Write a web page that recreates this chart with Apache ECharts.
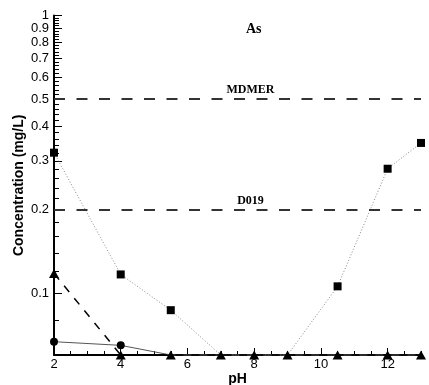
<!DOCTYPE html>
<html>
<head>
<meta charset="utf-8">
<script src="https://cdn.jsdelivr.net/npm/echarts@6/dist/echarts.min.js"></script>
<style>
  html, body { margin: 0; padding: 0; background: #fff; }
  #chart { width: 429px; height: 385px; }
</style>
</head>
<body>
<div id="chart"></div>
<script>
// pH values shared by the three series
const pH = [2, 4, 5.5, 7, 8, 9, 10.5, 12, 13];
// concentration (mg/L)
const squareValues = [0.321, 0.117, 0.087, 0.06, 0.06, 0.06, 0.106, 0.281, 0.348];
const circleValues = [0.067, 0.065, 0.06, 0.06, 0.06, 0.06, 0.06, 0.06, 0.06];
const triangleValues = [0.118, 0.06, 0.06, 0.06, 0.06, 0.06, 0.06, 0.06, 0.06];
// limit lines
const limitNames = ['MDMER', 'D019'];
const limitValues = [0.5, 0.2];
// axis ticks
const xLabelValues = [2, 4, 6, 8, 10, 12];
const yLabelValues = [0.1, 0.2, 0.3, 0.4, 0.5, 0.6, 0.7, 0.8, 0.9];
const yTopLabel = [1];
const yMin = 0.06, yMax = 1;
const xMin = 2, xMax = 13;

// log10 helper: the y axis is a value axis in log space
const lg = (v) => Math.log10(v);

const xMinorTicks = [];
for (let i = xMin * 2; i <= xMax * 2; i++) xMinorTicks.push(i / 2);
const yMinorTicks = [];
for (let i = 3; i <= 50; i++) yMinorTicks.push(lg(i * 0.02));

const chart = echarts.init(document.getElementById('chart'));

const toPairs = (vals) => pH.map((x, i) => [x, lg(vals[i])]);

const axisFont = { fontFamily: 'Liberation Sans, Arial, sans-serif', fontSize: 13, color: '#000' };
const nameFont = { fontFamily: 'Liberation Sans, Arial, sans-serif', fontWeight: 'bold', fontSize: 14, color: '#000' };
const logLabel = (v) => String(Math.round(Math.pow(10, v) * 10) / 10);

// points lying on the x axis are covered by the triangles in the original
const onAxis = (val) => val[1] <= lg(yMin) + 1e-9;

// line (no symbols) + scatter markers on their own layers
const lineOf = (vals, lineStyle) => ({
  type: 'line', z: 2, data: toPairs(vals), showSymbol: false, clip: false, lineStyle,
});
const markersOf = (vals, symbol, size, zlevel, hideOnAxis) => ({
  type: 'scatter', zlevel, data: toPairs(vals), symbolSize: size, clip: false,
  symbol: hideOnAxis ? (val) => (onAxis(val) ? 'none' : symbol) : symbol,
  itemStyle: { color: '#000', opacity: 1 },
});

chart.setOption({
  animation: false,
  title: {
    text: 'As',
    left: 241,
    top: 17,
    textStyle: { fontFamily: 'Liberation Serif, serif', fontWeight: 'bold', fontSize: 14, color: '#000' },
  },
  grid: { left: 54, right: 8, top: 15.6, bottom: 30, outerBoundsMode: 'none' },
  xAxis: [
    {
      type: 'value',
      min: xMin,
      max: xMax,
      position: 'bottom',
      name: 'pH',
      nameLocation: 'middle',
      nameGap: 17,
      nameMoveOverlap: false,
      nameTextStyle: nameFont,
      axisLine: { onZero: false, lineStyle: { color: '#000', width: 2 } },
      axisTick: { inside: true, length: 7, customValues: xLabelValues, lineStyle: { color: '#000', width: 1 } },
      axisLabel: { ...axisFont, margin: 3, customValues: xLabelValues },
      splitLine: { show: false },
    },
    {
      type: 'value',
      min: xMin,
      max: xMax,
      position: 'bottom',
      offset: 0,
      axisLine: { show: false, onZero: false },
      axisTick: { inside: true, length: 4, customValues: xMinorTicks, lineStyle: { color: '#000', width: 1 } },
      axisLabel: { show: false },
      splitLine: { show: false },
    },
  ],
  yAxis: [
    {
      type: 'value',
      min: lg(yMin),
      max: lg(yMax),
      position: 'left',
      name: 'Concentration (mg/L)',
      nameLocation: 'middle',
      nameGap: 28,
      nameMoveOverlap: false,
      nameTextStyle: nameFont,
      axisLine: { show: true, onZero: false, lineStyle: { color: '#000', width: 2 } },
      axisTick: { show: true, inside: true, length: 8, customValues: yLabelValues.concat(yTopLabel).map(lg), lineStyle: { color: '#000', width: 1 } },
      axisLabel: { ...axisFont, margin: 5, customValues: yLabelValues.map(lg), formatter: logLabel },
      splitLine: { show: false },
    },
    {
      type: 'value',
      min: lg(yMin),
      max: lg(yMax),
      position: 'left',
      offset: 0,
      axisLine: { show: false, onZero: false },
      axisTick: { show: true, inside: true, length: 5, customValues: yMinorTicks, lineStyle: { color: '#000', width: 1 } },
      axisLabel: { ...axisFont, margin: 5, showMaxLabel: true, customValues: yTopLabel.map(lg), formatter: logLabel },
      splitLine: { show: false },
    },
  ],
  series: [
    {
      ...lineOf(squareValues, { color: '#888', width: 1, type: [1, 2] }),
      markLine: {
        silent: true,
        symbol: 'none',
        lineStyle: { color: '#333', width: 2, type: [11, 11.5] },
        label: {
          position: 'insideMiddleTop',
          offset: [13, 0],
          distance: 3,
          fontFamily: 'Liberation Serif, serif',
          fontWeight: 'bold',
          fontSize: 12,
          color: '#000',
          formatter: (p) => p.name,
        },
        data: limitNames.map((n, i) => ({ name: n, yAxis: lg(limitValues[i]) })),
      },
    },
    lineOf(circleValues, { color: '#555', width: 1 }),
    lineOf(triangleValues, { color: '#000', width: 1.5, type: [8, 8] }),
    markersOf(squareValues, 'rect', 8, 1, true),
    markersOf(circleValues, 'circle', 8, 2, true),
    markersOf(triangleValues, 'triangle', [10, 9], 3, false),
  ],
});
</script>
</body>
</html>
